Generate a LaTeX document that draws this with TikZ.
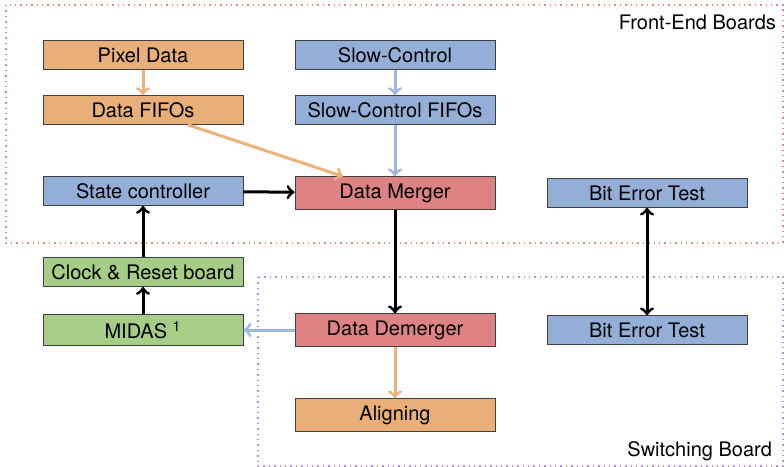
\documentclass[tikz,border=0pt]{standalone}
\usepackage{fontspec}
\setmainfont{TeX Gyre Heros}
\usetikzlibrary{positioning}
\definecolor{dataorange}{RGB}{232,176,120}
\definecolor{ctrlblue}{RGB}{148,175,215}
\definecolor{mergered}{RGB}{222,130,132}
\definecolor{clkgreen}{RGB}{166,205,134}
\definecolor{orangearrow}{RGB}{237,178,122}
\definecolor{bluearrow}{RGB}{158,184,224}
\definecolor{feframe}{RGB}{222,140,125}
\definecolor{swframe}{RGB}{175,145,215}
\begin{document}
\begin{tikzpicture}[x=0.5pt, y=-0.5pt, >=to, font=\fontsize{10}{12}\selectfont,
  block/.style={draw=black!75, minimum width=100pt, inner xsep=3pt, inner ysep=3.4pt},
  flow/.style={->, line width=1.5pt}]
 \useasboundingbox (0,0) rectangle (784,467);
 % board frames
 \draw[dotted, line width=0.7pt, feframe] (6,5) rectangle (783,243);
 \draw[dotted, line width=0.7pt, swframe] (258,277) rectangle (783,466);
 \node[anchor=east] (fetitle) at (783,22) {Front-End Boards};
 \node[anchor=east] (swtitle) at (779,451) {Switching Board};
 % front-end blocks
 \node[block, fill=dataorange] (pixel) at (143,55) {Pixel Data};
 \node[block, fill=dataorange] (dfifo) at (143,110) {Data FIFOs};
 \node[block, fill=ctrlblue] (slow) at (395,55) {Slow-Control};
 \node[block, fill=ctrlblue] (sfifo) at (395,110) {Slow-Control FIFOs};
 \node[block, fill=ctrlblue] (state) at (143,191) {State controller};
 \node[block, fill=mergered] (merger) at (395,193) {Data Merger};
 \node[block, fill=ctrlblue] (bitfe) at (647,193) {Bit Error Test};
 % clock and switching board blocks
 \node[block, fill=clkgreen] (clock) at (143,272) {Clock \& Reset board};
 \node[block, fill=clkgreen] (midas) at (143,330) {MIDAS \textsuperscript{1}};
 \node[block, fill=mergered] (demerger) at (395,330) {Data Demerger};
 \node[block, fill=ctrlblue] (bitsw) at (647,330) {Bit Error Test};
 \node[block, fill=dataorange] (align) at (395,415) {Aligning};
 % data paths
 \draw[flow, orangearrow] (pixel) -- (dfifo);
 \draw[flow, orangearrow] ([xshift=22.5pt]dfifo.south) -- ([xshift=-26pt]merger.north);
 \draw[flow, bluearrow] (slow) -- (sfifo);
 \draw[flow, bluearrow] (sfifo) -- (merger);
 \draw[flow] (state) -- (merger);
 \draw[flow] (clock) -- (state);
 \draw[flow] (midas) -- (clock);
 \draw[flow] (merger) -- (demerger);
 \draw[flow, <->] (bitfe) -- (bitsw);
 \draw[flow, bluearrow] (demerger) -- (midas);
 \draw[flow, orangearrow] (demerger) -- (align);
\end{tikzpicture}
\end{document}
